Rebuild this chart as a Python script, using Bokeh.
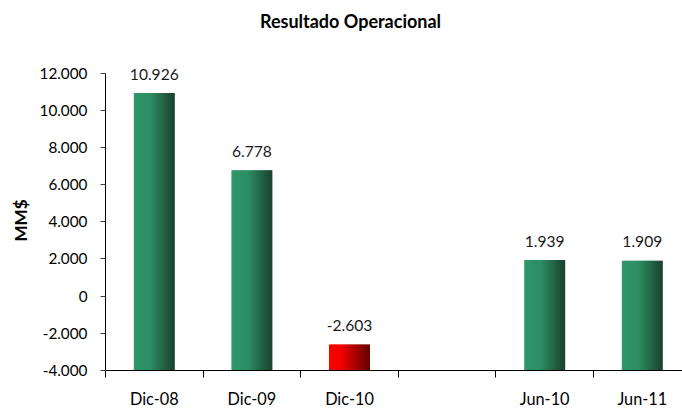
from bokeh.plotting import figure
from bokeh.models import Range1d, FixedTicker, ColumnDataSource, Label, Title
from bokeh.core.properties import value
from bokeh.embed import file_html
from bokeh.resources import INLINE

# ---- data ----
categories = ["Dic-08", "Dic-09", "Dic-10", "", "Jun-10", "Jun-11"]
values = [10926, 6778, -2603, None, 1939, 1909]
y_ticks = [-4000, -2000, 0, 2000, 4000, 6000, 8000, 10000, 12000]
y_tick_labels = ["-4.000", "-2.000", "0", "2.000", "4.000", "6.000", "8.000", "10.000", "12.000"]
title_text = "Resultado Operacional"
y_label = "MM$"

FONT = "Lato"
Y_MIN, Y_MAX = -4000, 12000
BAR_W = 0.42
N_SLICES = 24
CAT_PX = 97.6  # pixel width of one category slot

green_stops = [(0.0, (48, 152, 106)), (0.4, (45, 142, 99)), (1.0, (26, 64, 46))]
red_stops = [(0.0, (255, 0, 0)), (0.3, (240, 0, 0)), (1.0, (98, 0, 0))]


def interp(stops, t):
    for (t0, c0), (t1, c1) in zip(stops[:-1], stops[1:]):
        if t0 <= t <= t1:
            f = (t - t0) / (t1 - t0)
            c = [round(a + (b - a) * f) for a, b in zip(c0, c1)]
            return "#%02x%02x%02x" % tuple(c)
    return "#%02x%02x%02x" % stops[-1][1]


W, H = 682, 410
LEFT, BOTTOM = 105, 38
AXIS_TOP_PX, AXIS_BOT_PX, FRAME_TOP_PX = 73, 372, 5
UPP = (Y_MAX - Y_MIN) / (AXIS_BOT_PX - AXIS_TOP_PX)   # data units per pixel
Y_END = Y_MAX + (AXIS_TOP_PX - FRAME_TOP_PX) * UPP

p = figure(width=W, height=H, output_backend="svg", toolbar_location=None, title=None,
           x_range=Range1d(0, (W - LEFT) / CAT_PX), y_range=Range1d(Y_MIN, Y_END),
           min_border_left=LEFT, min_border_right=0, min_border_top=FRAME_TOP_PX,
           min_border_bottom=BOTTOM)
p.outline_line_color = None
p.grid.visible = False
p.background_fill_color = "white"

# main title, floating above the plotted area
title = Label(x=(350 - LEFT) / CAT_PX, y=Y_MAX + (AXIS_TOP_PX - 21) * UPP, text=title_text,
              text_align="center", text_baseline="middle",
              text_font=FONT, text_font_size="18px", text_font_style="bold",
              text_color="#000000")
p.add_layout(title)

# y-axis caption as a vertical title in the left panel
ylab = Title(text=y_label, align="left", offset=129, standoff=11,
             text_font=FONT, text_font_size="17px", text_font_style="bold",
             text_color="#000000")
p.add_layout(ylab, "left")

# gradient bars built from slices
lefts, rights, tops, bottoms, colors = [], [], [], [], []
lab_x, lab_y, lab_t = [], [], []
for i, v in enumerate(values):
    if v is None:
        continue
    xc = i + 0.5
    x0 = xc - BAR_W / 2
    w = BAR_W / N_SLICES
    stops = red_stops if v < 0 else green_stops
    for k in range(N_SLICES):
        t = (k + 0.5) / N_SLICES
        lefts.append(x0 + k * w)
        rights.append(x0 + (k + 1) * w + (w * 0.6 if k < N_SLICES - 1 else 0))
        tops.append(v)
        bottoms.append(Y_MIN)
        colors.append(interp(stops, t))
    lab_x.append(xc)
    lab_y.append(v)
    lab_t.append(f"{v:,}".replace(",", "."))

src = ColumnDataSource(dict(left=lefts, right=rights, top=tops, bottom=bottoms, color=colors))
p.quad(left="left", right="right", top="top", bottom="bottom", fill_color="color",
       line_color=None, source=src)

lsrc = ColumnDataSource(dict(x=lab_x, y=lab_y, t=lab_t))
p.text(x="x", y="y", text="t", source=lsrc, text_align="center",
       text_baseline="alphabetic", y_offset=-19, text_font=value(FONT),
       text_font_size="15.6px", text_color="#1a1a1a")

# y axis
ya = p.yaxis[0]
ya.bounds = (Y_MIN, Y_MAX)
ya.ticker = FixedTicker(ticks=y_ticks)
ya.major_label_overrides = {t: l for t, l in zip(y_ticks, y_tick_labels)}
ya.major_tick_out = 5
ya.major_tick_in = 0
ya.minor_tick_line_color = None
ya.major_label_standoff = 13
ya.major_label_text_font = FONT
ya.major_label_text_font_size = "15.3px"
ya.major_label_text_color = "#000000"
ya.axis_line_color = "#000000"
ya.major_tick_line_color = "#404040"

# x axis: category labels at centers, separator ticks at boundaries
xa = p.xaxis[0]
centers = [i + 0.5 for i in range(len(categories))]
xa.ticker = FixedTicker(ticks=centers, minor_ticks=list(range(len(categories))))
xa.major_label_overrides = {c: lab for c, lab in zip(centers, categories)}
xa.major_tick_out = 0
xa.major_tick_in = 0
xa.major_tick_line_color = None
xa.minor_tick_out = 7
xa.minor_tick_in = 0
xa.minor_tick_line_color = "#000000"
xa.major_label_standoff = 11
xa.major_label_text_font = FONT
xa.major_label_text_font_size = "16.3px"
xa.major_label_text_color = "#000000"
xa.axis_line_color = "#000000"

open("out.html", "w").write(file_html(p, INLINE))
